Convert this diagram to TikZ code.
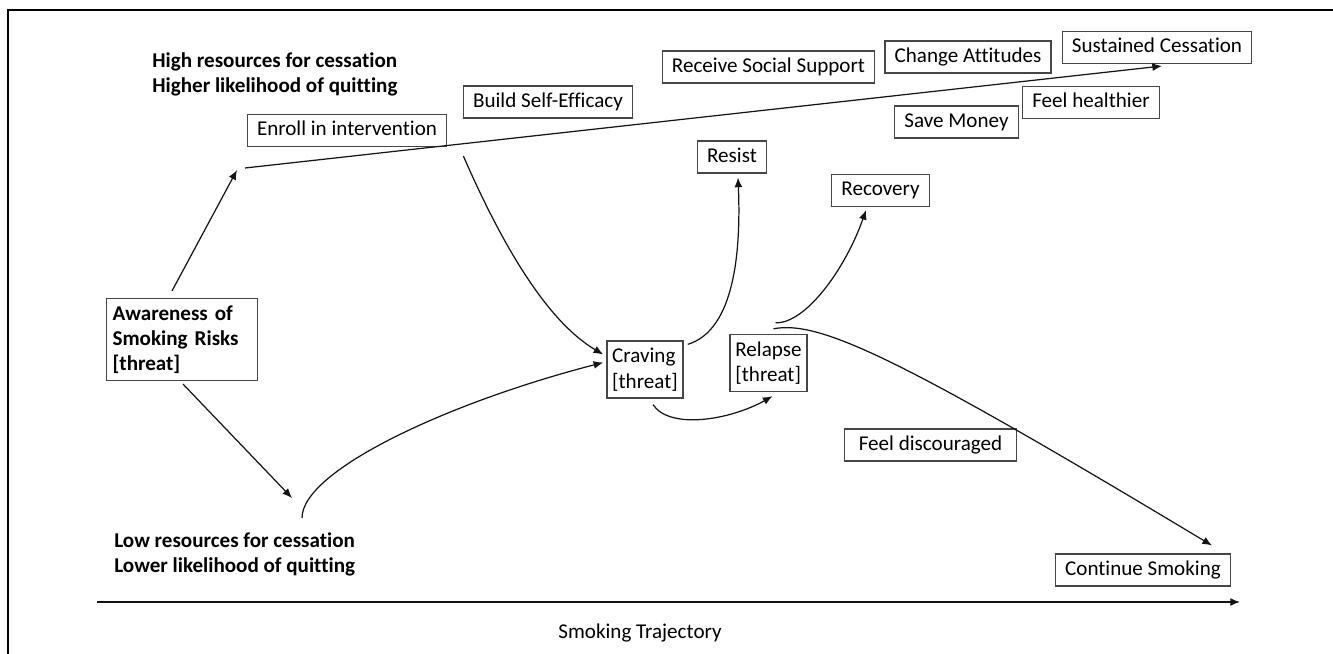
\documentclass[tikz,border=0pt]{standalone}
\usepackage{fontspec}
\setmainfont{Carlito}[RawFeature={-liga;-clig;-dlig;-calt}]
\usepackage{tikz}
\usetikzlibrary{arrows.meta,calc}
\usepackage{xcolor}
\definecolor{boxgray}{RGB}{70,70,70}
\definecolor{inkblack}{RGB}{20,20,20}

\begin{document}
\begin{tikzpicture}[x=0.02cm,y=-0.02cm,
    box/.style={draw=boxgray, line width=0.8pt, font=\fontsize{12}{14.5}\selectfont},
    stage/.style={box, inner xsep=5.5pt, inner ysep=3pt, text height=9pt, text depth=3pt},
    threat/.style={box, align=left, inner xsep=3pt, inner ysep=4pt},
    res/.style={font=\fontsize{12}{14.2}\selectfont\bfseries, align=left, inner sep=0pt, anchor=west},
    arr/.style={draw=inkblack, line width=0.7pt, -{Latex[length=5.5pt,width=4.5pt]}}]
    \useasboundingbox (0,0) rectangle (1333,653);
    % Frame
    \draw[line width=1.1pt] (8,700) -- (8,10) -- (1400,10);
    % Resource labels
    \node[res] (high) at (152,74) {High resources for cessation\\Higher likelihood of quitting};
    \node[res] (low) at (114,554) {Low resources for cessation\\Lower likelihood of quitting};
    % Threat boxes
    \node[threat, font=\fontsize{12}{14.2}\selectfont\bfseries, text width=79pt, inner xsep=3.5pt] (aware) at (182,339.5)
        {Awareness of\\Smoking Risks\\{[threat]}};
    \node[threat] (craving) at (645,369.5) {Craving\\{[threat]}};
    \node[threat] (relapse) at (768.5,363) {Relapse\\{[threat]}};
    % Stages along the way
    \node[stage] (enroll) at (347,130.5) {Enroll in intervention};
    \node[stage] (efficacy) at (548,102) {Build Self-Efficacy};
    \node[stage] (social) at (768.5,67) {Receive Social Support};
    \node[stage] (attitudes) at (968,57) {Change Attitudes};
    \node[stage] (sustained) at (1157,47.5) {Sustained Cessation};
    \node[stage] (healthier) at (1091,102.5) {Feel healthier};
    \node[stage] (money) at (956.5,122) {Save Money};
    \node[stage] (resist) at (732,157) {Resist};
    \node[stage] (recovery) at (880.5,190.5) {Recovery};
    \node[stage, inner xsep=8pt] (discouraged) at (930.5,445) {Feel discouraged};
    \node[stage] (continue) at (1143,570) {Continue Smoking};
    % Branch points
    \coordinate (hi) at (237,170);
    \coordinate (hi2) at (245,168);
    \coordinate (lo) at (292,498);
    \coordinate (lo2) at (302,518);
    % High path
    \draw[arr] ($(aware.north)+(-10,-7)$) -- (hi);
    \draw[arr] (hi2) -- ($(sustained.south)+(5,2)$);
    \draw[arr] ($(enroll.south east)+(16,9)$) .. controls (500,240) and (545,320) .. ($(craving.west)+(-3,-15)$);
    % Low path
    \draw[arr] ($(aware.south)+(1,3)$) -- (lo);
    \draw[arr] (lo2) .. controls (302,470) and (450,402) .. ($(craving.west)+(-3,-7)$);
    % Craving and relapse
    \draw[arr] ($(craving.north east)+(4,4)$) .. controls (735,330) and (741,250) .. ($(resist.south)+(6,4)$);
    \draw[arr] ($(craving.south)+(8,6)$) .. controls (670,430) and (730,420) .. ($(relapse.south)+(4,4)$);
    \draw[arr] ($(relapse.north)+(7,-11)$) .. controls (805,324) and (845,270) .. ($(recovery.south west)+(35,3)$);
    \draw[arr] ($(relapse.north)+(5,-5)$) .. controls (820,320) and (900,358) .. ($(continue.north)+(69,-8)$);
    % Trajectory axis
    \coordinate (t0) at (97,602);
    \coordinate (t1) at (1240,602);
    \draw[arr] (t0) -- (t1);
    \node[font=\fontsize{12}{14.5}\selectfont] (traj) at (640,633) {Smoking Trajectory};
\end{tikzpicture}
\end{document}
